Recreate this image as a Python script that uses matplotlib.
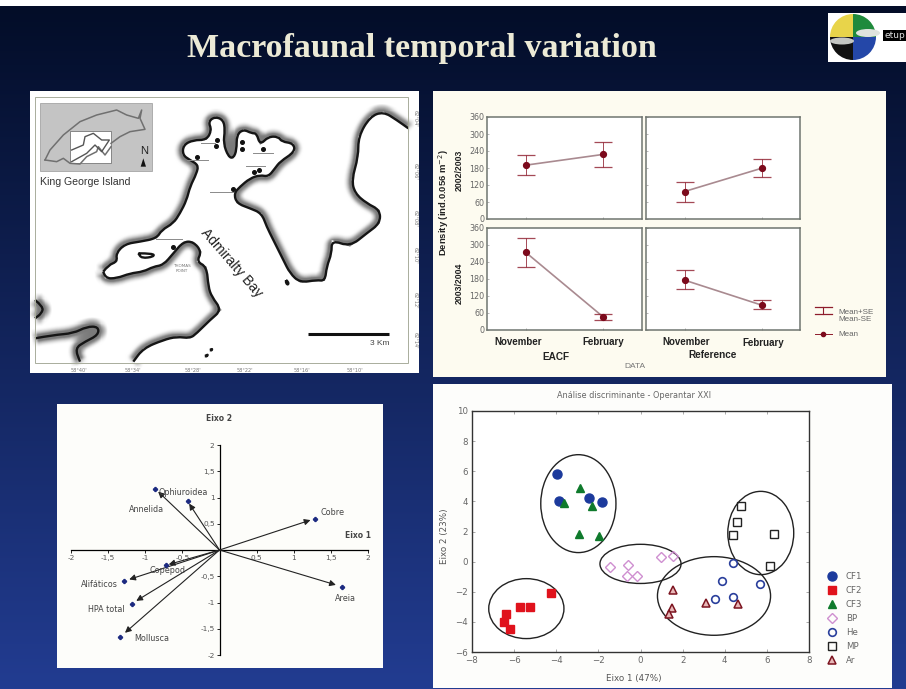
import numpy as np
import matplotlib
matplotlib.use('Agg')
import matplotlib.pyplot as plt
from matplotlib.patches import Ellipse, Rectangle, Wedge, Polygon, PathPatch
from matplotlib.path import Path

W, H = 906, 689

# density panels (mean, upper, lower) for November, February
months = ['November', 'February']
eacf_0203_mean = [190, 228]
eacf_0203_hi = [225, 271]
eacf_0203_lo = [154, 183]
ref_0203_mean = [97, 179]
ref_0203_hi = [130, 213]
ref_0203_lo = [61, 147]
eacf_0304_mean = [274, 46]
eacf_0304_hi = [325, 56]
eacf_0304_lo = [223, 35]
ref_0304_mean = [176, 88]
ref_0304_hi = [210, 105]
ref_0304_lo = [144, 73]
density_ticks = [0, 60, 120, 180, 240, 300, 360]

# biplot loadings
var_names = ['Annelida', 'Ophiuroidea', 'Cobre', 'Areia', 'Alifáticos', 'HPA total', 'Mollusca', 'Copepod']
var_x = [-0.87, -0.43, 1.29, 1.65, -1.28, -1.18, -1.34, -0.72]
var_y = [1.17, 0.93, 0.60, -0.70, -0.59, -1.02, -1.66, -0.29]
label_x = [-0.98, -0.49, 1.52, 1.70, -1.62, -1.52, -0.91, -0.70]
label_y = [0.77, 1.09, 0.72, -0.93, -0.65, -1.13, -1.68, -0.39]
biplot_ticks = [-2, -1.5, -1, -0.5, 0.5, 1, 1.5, 2]

# discriminant scores
cf1_x = [-3.96, -3.87, -2.46, -1.82]
cf1_y = [5.84, 4.03, 4.25, 3.96]
cf2_x = [-4.25, -5.26, -5.7, -6.4, -6.5, -6.2]
cf2_y = [-2.1, -3.03, -3.03, -3.5, -4.0, -4.5]
cf3_x = [-2.86, -3.63, -2.31, -2.94, -1.97]
cf3_y = [4.91, 3.92, 3.67, 1.81, 1.7]
bp_x = [-1.45, -0.57, -0.66, -0.16, 0.96, 1.53]
bp_y = [-0.33, -0.2, -0.97, -0.97, 0.29, 0.38]
he_x = [4.39, 3.89, 5.67, 4.38, 3.52]
he_y = [-0.07, -1.31, -1.46, -2.32, -2.5]
mp_x = [4.77, 4.58, 4.39, 6.33, 6.16]
mp_y = [3.69, 2.63, 1.77, 1.81, -0.31]
ar_x = [1.53, 1.48, 1.37, 3.1, 4.61]
ar_y = [-1.86, -3.08, -3.5, -2.72, -2.79]
# ellipse centre x, centre y, width, height
ell_cx = [-2.95, -5.42, 0.0, 3.49, 5.71]
ell_cy = [3.85, -3.12, -0.15, -2.28, 1.9]
ell_w = [3.57, 3.57, 3.85, 5.37, 3.13]
ell_h = [6.5, 3.98, 2.6, 5.22, 5.53]

# map outlines, in map pixels
coast_north = [(220,545),(235,525),(262,515),(258,490),(285,462),(330,455),(380,445),(395,420),(430,400),(450,370),(470,330),(480,290),(500,250),(505,225),(480,210),(458,195),(460,165),(490,150),(530,150),(545,120),(535,95),(555,80),(580,90),(585,120),(580,160),(595,200),(610,205),(620,180),(620,135),(640,118),(665,130),(680,130),(690,165),(715,140),(745,140),(755,155),(790,160),(795,185),(750,215),(735,235),(715,260),(690,255),(660,265),(630,290),(612,310),(620,340),(660,355),(695,370),(710,410),(730,450),(760,510),(780,550),(810,578),(860,570),(885,573),(890,530),(905,490),(905,450),(960,470),(1010,430),(1050,400),(1050,360),(1010,340),(975,310),(965,270),(985,200),(985,140),(1020,80),(1060,65),(1100,90),(1135,115)]
coast_south = [(220,545),(225,565),(260,565),(300,550),(340,545),(370,530),(400,525),(430,490),(460,455),(490,455),(515,485),(500,515),(530,530),(535,590),(545,620),(575,660),(540,690),(500,730),(480,745),(440,740),(400,750),(340,775),(310,815)]
coast_sw = [(15,745),(70,735),(130,730),(170,710),(205,710),(205,735),(165,755),(135,775),(150,815)]
coast_w = [(15,630),(40,650),(35,670),(15,685)]
lagoon = [(325,490),(370,490),(372,500),(335,505),(325,490)]
islet1 = [(768,570),(775,575),(775,585),(768,580),(768,570)]
islet2 = [(525,798),(535,792),(530,800),(525,798)]
islet3 = [(540,780),(547,775),(545,782),(540,780)]
stations_x = [560,558,635,637,700,673,687,500,608,428]
stations_y = [150,168,157,177,178,245,240,200,297,470]
leaders = [[(512,158),(555,158)],[(470,211),(535,211)],[(670,190),(730,190)],[(647,229),(705,229)],[(540,307),(610,307)],[(378,447),(455,447)]]
lon_pos = [148, 310, 490, 645, 815, 975]
lon_labels = ["58°40'", "58°34'", "58°28'", "58°22'", "58°16'", "58°10'"]
lat_pos = [85, 245, 385, 495, 630, 750]
lat_labels = ["62°04'", "62°06'", "62°08'", "62°10'", "62°12'", "62°14'"]
island_top = [(45,210),(60,180),(100,135),(150,95),(200,75),(260,60),(290,75),(325,85),(335,60),(330,85),(345,118),(300,125),(270,140),(243,160)]
island_low = [(45,210),(80,215),(100,205),(120,220),(150,222),(170,200),(200,185),(205,170),(225,195),(243,170)]
inset_bay = [(125,180),(160,165),(165,140),(190,130),(215,150),(238,150),(215,185),(195,165),(170,190),(125,215)]


def px_axes(x0, y0, x1, y1, **kw):
    return fig.add_axes([x0 / W, 1 - y1 / H, (x1 - x0) / W, (y1 - y0) / H], **kw)


#rounded coast: outline points used as quadratic control points
def coast_path(pts):
    verts = [pts[0]]
    codes = [Path.MOVETO]
    for i in range(1, len(pts) - 1):
        mid = ((pts[i][0] + pts[i + 1][0]) / 2, (pts[i][1] + pts[i + 1][1]) / 2)
        verts += [pts[i], mid]
        codes += [Path.CURVE3, Path.CURVE3]
    verts.append(pts[-1])
    codes.append(Path.LINETO)
    return Path(verts, codes)


#box blur for the stippled shore shading
def soften(img, dpi):
    pad = 8
    out = np.pad(img, ((pad, pad), (pad, pad), (0, 0)))
    k = np.ones(7) / 7
    for a in (0, 1):
        out = np.apply_along_axis(lambda v: np.convolve(v, k, mode='same'), a, out)
    return out, -pad, -pad


fig = plt.figure(figsize=(W / 100, H / 100), dpi=100)

# slide background
bg = px_axes(0, 0, W, H)
bg.axis('off')
top_col = np.array([3, 13, 40]) / 255
bot_col = np.array([34, 60, 145]) / 255
t = np.linspace(0, 1, 256)[:, None, None]
grad = top_col[None, None, :] * (1 - t) + bot_col[None, None, :] * t
bg.imshow(grad, extent=[0, W, H, 6], aspect='auto', zorder=0)
bg.set_xlim(0, W)
bg.set_ylim(H, 0)
bg.add_patch(Rectangle((30, 91), 389, 282, fc='white', ec='none', zorder=1))
bg.add_patch(Rectangle((433, 91), 453, 286, fc='#fdfbf0', ec='none', zorder=1))
bg.add_patch(Rectangle((57, 404), 326, 264, fc='#fdfdfa', ec='none', zorder=1))
bg.add_patch(Rectangle((433, 384), 459, 304, fc='#fdfdfb', ec='none', zorder=1))
bg.text(422, 49, 'Macrofaunal temporal variation', family='Liberation Serif', weight='bold',
        fontsize=24.5, color='#ecead6', ha='center', va='center', zorder=3)

# logo
bg.add_patch(Rectangle((828, 13), 78, 49, fc='white', ec='none', zorder=1))
bg.add_patch(Wedge((853, 37), 23, 180, 270, fc='#e8d44a', ec='none', zorder=2))
bg.add_patch(Wedge((853, 37), 23, 270, 360, fc='#1f8a3c', ec='none', zorder=2))
bg.add_patch(Wedge((853, 37), 23, 0, 90, fc='#2447a8', ec='none', zorder=2))
bg.add_patch(Wedge((853, 37), 23, 90, 180, fc='#111111', ec='none', zorder=2))
bg.add_patch(Ellipse((842, 41), 24, 7, fc='#c4c6c2', ec='none', zorder=2))
bg.add_patch(Ellipse((868, 33), 24, 8, fc='#dfe3de', ec='none', zorder=2))
bg.add_patch(Rectangle((883, 30), 23, 11, fc='black', ec='none', zorder=2))
bg.text(895, 35.5, 'etup', color='#dddddd', fontsize=6.5, ha='center', va='center', zorder=3)

# map
mp = px_axes(30, 90, 425, 380)
mp.set_xlim(0, 1185)
mp.set_ylim(870, 0)
mp.axis('off')
mp.patch.set_alpha(0)
mp.add_patch(Rectangle((15, 20), 1120, 800, fc='none', ec='#a9ad9c', lw=0.7, zorder=3))
for line in [coast_north, coast_south, coast_sw, coast_w]:
    shade = PathPatch(coast_path(line), fc='none', ec='#222222', lw=9, alpha=0.6, zorder=1, joinstyle='round')
    shade.set_agg_filter(soften)
    mp.add_patch(shade)
#the bay itself stays clean, the shading only shows on the land side
water = coast_north + [(1135, 820), (310, 820)] + coast_south[::-1]
mp.add_patch(Polygon(water, fc='white', ec='none', zorder=1.5))
for line in [coast_north, coast_south, coast_sw, coast_w, lagoon, islet1, islet2, islet3]:
    mp.add_patch(PathPatch(coast_path(line), fc='none', ec='#151515', lw=1.7, zorder=2, joinstyle='round'))
for seg in leaders:
    mp.plot([seg[0][0], seg[1][0]], [seg[0][1], seg[1][1]], color='#8a8a8a', lw=0.7, zorder=2)
mp.plot(stations_x, stations_y, 'o', color='#111111', ms=2.6, ls='none', zorder=3)
mp.add_patch(Rectangle((30, 38), 337, 204, fc='#c4c4c4', ec='#999999', lw=0.5, zorder=4))
mp.add_patch(Rectangle((120, 122), 123, 98, fc='white', ec='#777777', lw=0.6, zorder=5))
mp.plot([p[0] for p in island_top], [p[1] for p in island_top], color='#707070', lw=1.1, zorder=6)
mp.plot([p[0] for p in island_low], [p[1] for p in island_low], color='#707070', lw=1.1, zorder=6)
mp.plot([p[0] for p in inset_bay], [p[1] for p in inset_bay], color='#555555', lw=1, zorder=6)
mp.text(343, 183, 'N', fontsize=8, ha='center', va='center', color='#222222', zorder=7, family='Liberation Sans')
mp.add_patch(Polygon([(332, 230), (348, 230), (340, 205)], fc='#111111', ec='none', zorder=7))
mp.text(30, 275, 'King George Island', fontsize=7.6, family='Liberation Sans', color='#333333', va='center')
mp.text(605, 520, 'Admiralty Bay', fontsize=10, family='Liberation Sans', rotation=-49,
        rotation_mode='anchor', ha='center', va='center', color='#222222', zorder=4)
mp.text(455, 535, 'THOMAS\nPOINT', fontsize=3, color='#777777', ha='center', va='center', zorder=4)
mp.plot([835, 1078], [732, 732], color='#111111', lw=2.2, solid_capstyle='butt', zorder=4)
mp.text(1048, 760, '3 Km', fontsize=6, color='#444444', ha='center', va='center', family='Liberation Sans')
for p, s in zip(lon_pos, lon_labels):
    mp.text(p, 841, s, fontsize=3.6, color='#777777', ha='center', va='center')
for p, s in zip(lat_pos, lat_labels):
    mp.text(1155, p, s, fontsize=3.6, color='#777777', ha='center', va='center', rotation=-90)

# density panels
red = '#8e1c2c'
grid_boxes = [(487, 117, 642, 219), (646, 117, 800, 219), (487, 228, 642, 330), (646, 228, 800, 330)]
grid_data = [(eacf_0203_mean, eacf_0203_hi, eacf_0203_lo),
             (ref_0203_mean, ref_0203_hi, ref_0203_lo),
             (eacf_0304_mean, eacf_0304_hi, eacf_0304_lo),
             (ref_0304_mean, ref_0304_hi, ref_0304_lo)]
for i in range(4):
    ax = px_axes(*grid_boxes[i])
    mean, hi, lo = grid_data[i]
    ax.plot([0, 1], mean, color='#a98a90', lw=1.2, zorder=2)
    ax.errorbar([0, 1], mean, yerr=[np.array(mean) - np.array(lo), np.array(hi) - np.array(mean)],
                fmt='none', ecolor=red, elinewidth=0.7, capsize=6.5, capthick=0.9, alpha=0.8, zorder=3)
    ax.plot([0, 1], mean, 'o', color='#7c0a1c', ms=4.2, zorder=4)
    ax.set_xlim(-0.5, 1.5)
    ax.set_ylim(0, 360)
    ax.set_facecolor('white')
    for s in ax.spines.values():
        s.set_color('#6f7570')
        s.set_linewidth(1.1)
    ax.set_xticks([0, 1], [])
    ax.set_yticks(density_ticks)
    ax.tick_params(length=1.5, width=0.5, color='#999999', direction='in')
    if i % 2 == 0:
        ax.tick_params(axis='y', labelsize=5.8, labelcolor='#666666', pad=2)
    else:
        ax.set_yticklabels([])
bold = dict(weight='bold', color='#222222', ha='center', va='center', zorder=3, family='Liberation Sans')
bg.text(444, 203, 'Density (ind.0.056 m$^{-2}$)', rotation=90, fontsize=6.8, **bold)
bg.text(459, 170, '2002/2003', rotation=90, fontsize=6.3, **bold)
bg.text(459, 283, '2003/2004', rotation=90, fontsize=6.3, **bold)
bg.text(518, 342, months[0], fontsize=7, **bold)
bg.text(603, 342, months[1], fontsize=7, **bold)
bg.text(686, 342, months[0], fontsize=7, **bold)
bg.text(763, 343, months[1], fontsize=7, **bold)
bg.text(556, 357, 'EACF', fontsize=7.2, **bold)
bg.text(713, 355, 'Reference', fontsize=7.2, **bold)
bg.text(635, 367, 'DATA', fontsize=6, color='#777777', ha='center', va='center', zorder=3, family='Liberation Sans')
bg.plot([823, 823], [307, 314], color=red, lw=0.8, zorder=3)
bg.plot([815, 832], [307, 307], color=red, lw=0.9, zorder=3)
bg.plot([815, 832], [314, 314], color=red, lw=0.9, zorder=3)
bg.plot([815, 832], [334, 334], color=red, lw=0.7, zorder=3)
bg.plot([823], [334], 'o', color='#7c0a1c', ms=3, zorder=3)
bg.text(838, 316, 'Mean+SE\nMean-SE', fontsize=5.8, color='#666666', va='center', zorder=3, family='Liberation Sans', linespacing=1.1)
bg.text(838, 334, 'Mean', fontsize=5.8, color='#666666', va='center', zorder=3, family='Liberation Sans')

# biplot
bi = px_axes(71, 445, 368, 655)
bi.set_xlim(-2, 2)
bi.set_ylim(-2, 2)
bi.patch.set_alpha(0)
for s in ['top', 'right']:
    bi.spines[s].set_visible(False)
bi.spines['left'].set_position('zero')
bi.spines['bottom'].set_position('zero')
bi.spines['left'].set_linewidth(0.9)
bi.spines['bottom'].set_linewidth(0.9)
bi.set_xticks(biplot_ticks, [str(v).replace('.', ',') for v in biplot_ticks])
bi.set_yticks(biplot_ticks, [str(v).replace('.', ',') for v in biplot_ticks])
bi.tick_params(labelsize=5.3, labelcolor='#555555', length=2, width=0.6, pad=1.5)
for i in range(len(var_names)):
    bi.annotate('', xy=(var_x[i] * 0.95, var_y[i] * 0.95), xytext=(0, 0),
                arrowprops=dict(arrowstyle='-|>', color='#222222', lw=0.8, mutation_scale=9, shrinkA=0, shrinkB=0))
    bi.text(label_x[i], label_y[i], var_names[i], fontsize=5.8, color='#444444', ha='center', va='center')
bi.plot(var_x, var_y, 'P', color='#1c2a80', ms=2.8, ls='none', zorder=5)
bi.text(0, 2.5, 'Eixo 2', fontsize=5.5, weight='bold', color='#444444', ha='center', va='center', clip_on=False)
bi.text(2.04, 0.27, 'Eixo 1', fontsize=5.5, weight='bold', color='#444444', ha='right', va='center')

# discriminant scatter
sc = px_axes(472, 411, 809, 652)
sc.set_facecolor('white')
sc.set_xlim(-8, 8)
sc.set_ylim(-6, 10)
sc.plot(cf1_x, cf1_y, 'o', color='#1c3a9c', ms=6.5, ls='none', label='CF1')
sc.plot(cf2_x, cf2_y, 's', color='#e0121c', ms=5.5, ls='none', label='CF2')
sc.plot(cf3_x, cf3_y, '^', color='#0f7a2c', ms=6, ls='none', label='CF3')
sc.plot(bp_x, bp_y, 'D', mfc='none', mec='#cf8fd0', mew=1, ms=4.6, ls='none', label='BP')
sc.plot(he_x, he_y, 'o', mfc='none', mec='#2a3f9c', mew=1.2, ms=5.5, ls='none', label='He')
sc.plot(mp_x, mp_y, 's', mfc='none', mec='#222222', mew=1, ms=5.2, ls='none', label='MP')
sc.plot(ar_x, ar_y, '^', mfc='#e8b8b8', mec='#7c1420', mew=1.1, ms=5.2, ls='none', label='Ar')
for i in range(len(ell_cx)):
    sc.add_patch(Ellipse((ell_cx[i], ell_cy[i]), ell_w[i], ell_h[i], fc='none', ec='#222222', lw=1))
sc.set_xticks(range(-8, 9, 2))
sc.set_yticks(range(-6, 11, 2))
sc.tick_params(labelsize=6.2, labelcolor='#666666', length=2, width=0.5, direction='in', color='#888888', top=True, right=True, pad=3)
for s in sc.spines.values():
    s.set_linewidth(1)
    s.set_color('#333333')
bg.text(634, 678, 'Eixo 1 (47%)', fontsize=6.3, color='#555555', ha='center', va='center', zorder=3)
bg.text(445, 536, 'Eixo 2 (23%)', fontsize=6.3, color='#555555', ha='center', va='center', rotation=90, zorder=3)
bg.text(634, 395, 'Análise discriminante - Operantar XXI', fontsize=5.9, color='#666666', ha='center', va='center', zorder=3)
sc.legend(loc='upper left', bbox_to_anchor=(1.043, 0.33), frameon=False, fontsize=6.2, labelspacing=0.57,
          handletextpad=0.6, labelcolor='#666666', borderpad=0, borderaxespad=0)

fig.savefig('out.png', dpi=100)
